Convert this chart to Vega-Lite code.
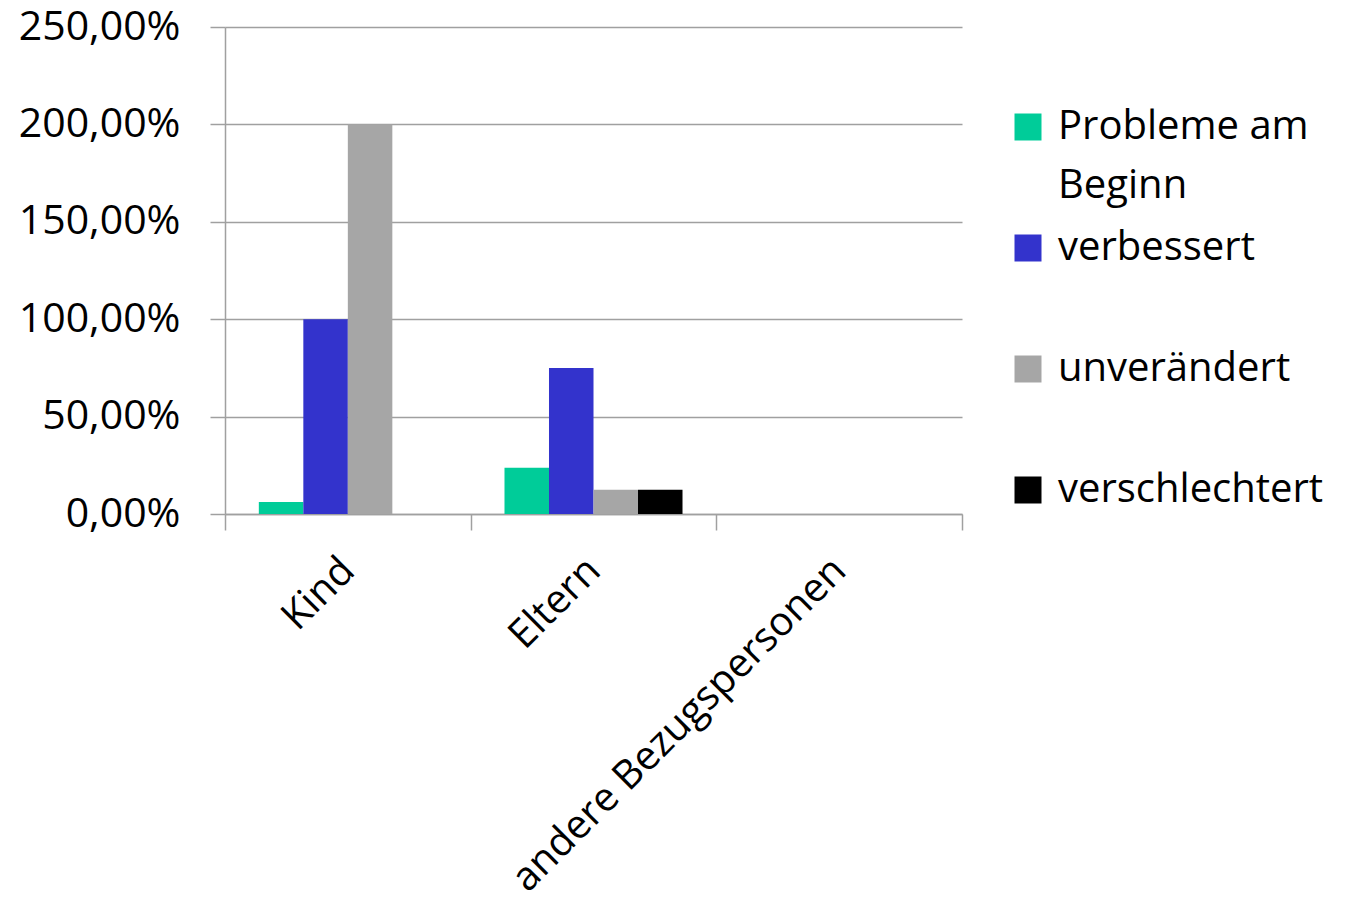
{
  "$schema": "https://vega.github.io/schema/vega-lite/v6.json",
  "width": 737,
  "height": 487,
  "autosize": {"type": "none"},
  "padding": {"left": 225, "top": 27, "right": 385, "bottom": 394},
  "background": "white",
  "config": {"view": {"stroke": null}},
  "data": {
    "values": [
      {"gruppe": "Kind", "serie": "Probleme am Beginn", "wert": 6.2},
      {"gruppe": "Kind", "serie": "verbessert", "wert": 100},
      {"gruppe": "Kind", "serie": "unverändert", "wert": 200},
      {"gruppe": "Kind", "serie": "verschlechtert", "wert": 0},
      {"gruppe": "Eltern", "serie": "Probleme am Beginn", "wert": 23.8},
      {"gruppe": "Eltern", "serie": "verbessert", "wert": 75},
      {"gruppe": "Eltern", "serie": "unverändert", "wert": 12.5},
      {"gruppe": "Eltern", "serie": "verschlechtert", "wert": 12.5},
      {"gruppe": "andere Bezugspersonen", "serie": "Probleme am Beginn", "wert": 0},
      {"gruppe": "andere Bezugspersonen", "serie": "verbessert", "wert": 0},
      {"gruppe": "andere Bezugspersonen", "serie": "unverändert", "wert": 0},
      {"gruppe": "andere Bezugspersonen", "serie": "verschlechtert", "wert": 0}
    ]
  },
  "mark": {"type": "bar"},
  "encoding": {
    "x": {
      "field": "gruppe",
      "type": "nominal",
      "sort": ["Kind", "Eltern", "andere Bezugspersonen"],
      "scale": {"paddingInner": 0, "paddingOuter": 0},
      "axis": {
        "title": null,
        "labelAngle": -45,
        "labelAlign": "right",
        "labelBaseline": "middle",
        "labelFont": "Open Sans",
        "labelFontSize": 40,
        "labelColor": "black",
        "labelPadding": 34,
        "labelLimit": 800,
        "labelOverlap": false,
        "tickBand": "extent",
        "tickSize": 16,
        "tickWidth": 1.5,
        "tickColor": "#A0A0A0",
        "domainColor": "#A0A0A0",
        "domainWidth": 1.5,
        "grid": false
      }
    },
    "xOffset": {
      "field": "serie",
      "sort": ["Probleme am Beginn", "verbessert", "unverändert", "verschlechtert"],
      "scale": {"paddingInner": 0, "paddingOuter": 0.76}
    },
    "y": {
      "field": "wert",
      "type": "quantitative",
      "scale": {"domain": [0, 250], "nice": false},
      "axis": {
        "title": null,
        "values": [0, 50, 100, 150, 200, 250],
        "labelExpr": "replace(format(datum.value, '.2f'), '.', ',') + '%'",
        "labelFont": "Open Sans",
        "labelFontSize": 41,
        "labelColor": "black",
        "labelPadding": 30,
        "labelLimit": 400,
        "tickSize": 15,
        "tickWidth": 1.5,
        "tickColor": "#A0A0A0",
        "grid": true,
        "gridColor": "#A0A0A0",
        "gridWidth": 1.5,
        "domainColor": "#A0A0A0",
        "domainWidth": 1.5
      }
    },
    "color": {
      "field": "serie",
      "type": "nominal",
      "sort": ["Probleme am Beginn", "verbessert", "unverändert", "verschlechtert"],
      "scale": {
        "domain": ["Probleme am Beginn", "verbessert", "unverändert", "verschlechtert"],
        "range": ["#00CC99", "#3333CC", "#A6A6A6", "#000000"]
      },
      "legend": {
        "title": null,
        "orient": "none",
        "legendX": 783,
        "legendY": 80,
        "padding": 0,
        "symbolType": "square",
        "symbolSize": 729,
        "symbolStrokeWidth": 0,
        "labelFont": "Open Sans",
        "labelFontSize": 40,
        "labelColor": "black",
        "labelLimit": 400,
        "labelOffset": 10,
        "rowPadding": 22,
        "labelExpr": "datum.label == 'Probleme am Beginn' ? ['Probleme am', 'Beginn'] : [datum.label, '']",
        "encode": {
          "labels": {
            "update": {
              "lineHeight": {"value": 59}
            }
          }
        }
      }
    }
  }
}
